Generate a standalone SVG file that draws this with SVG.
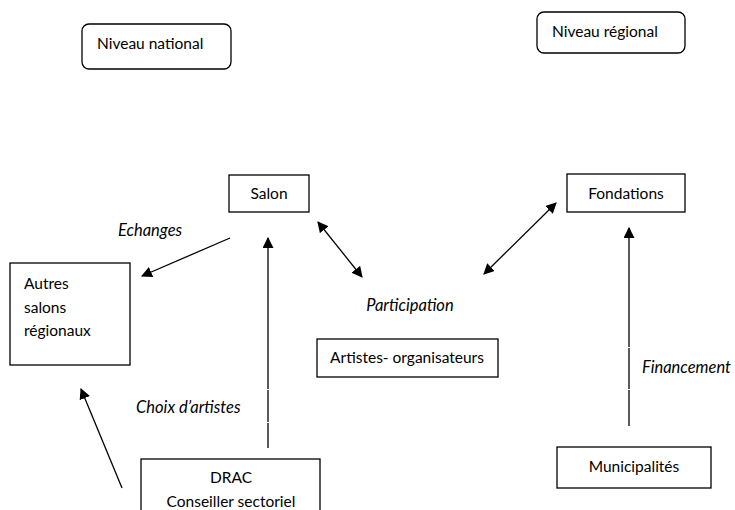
<svg xmlns="http://www.w3.org/2000/svg" width="735" height="510" viewBox="0 0 735 510">
<defs>
<style>
.box{fill:#fff;stroke:#000;stroke-width:1.3}
.t{font-family:Lato,"Open Sans",sans-serif;font-size:15.5px;fill:#000}
.lbl{font-family:Lato,"Open Sans",sans-serif;font-size:16.5px;font-style:italic;fill:#000}
.c{stroke:#000;stroke-width:1.3;fill:none}
</style>
<marker id="ah" viewBox="0 0 10 10" refX="9" refY="5" markerWidth="11" markerHeight="11" markerUnits="userSpaceOnUse" orient="auto-start-reverse">
<path d="M0,0 L10,5 L0,10 z" fill="#000"/>
</marker>
</defs>
<rect width="735" height="510" fill="#fff"/>
<g id="niveau-national"><rect class="box" x="82" y="24" width="149" height="45" rx="7"/><text class="t" x="97" y="49">Niveau national</text></g>
<g id="niveau-regional"><rect class="box" x="537" y="12" width="148" height="41" rx="7"/><text class="t" x="552" y="37">Niveau régional</text></g>
<g id="salon"><rect class="box" x="229" y="175" width="80" height="37"/><text class="t" x="269" y="199" text-anchor="middle">Salon</text></g>
<g id="fondations"><rect class="box" x="567" y="174" width="118" height="38"/><text class="t" x="626" y="199" text-anchor="middle">Fondations</text></g>
<g id="autres-salons"><rect class="box" x="10" y="263" width="120" height="102"/><text class="t" x="24" y="289">Autres</text><text class="t" x="24" y="313">salons</text><text class="t" x="24" y="336">régionaux</text></g>
<g id="artistes"><rect class="box" x="317" y="339" width="181" height="38"/><text class="t" x="407" y="363" text-anchor="middle">Artistes- organisateurs</text></g>
<g id="drac"><rect class="box" x="141" y="459" width="179" height="60"/><text class="t" x="231" y="483" text-anchor="middle">DRAC</text><text class="t" x="231" y="507" text-anchor="middle">Conseiller sectoriel</text></g>
<g id="municipalites"><rect class="box" x="557" y="447" width="154" height="41"/><text class="t" x="634" y="472" text-anchor="middle">Municipalités</text></g>
<g id="connectors">
<line class="c" x1="230" y1="238" x2="142" y2="276" marker-end="url(#ah)"/>
<line class="c" x1="268" y1="448" x2="268" y2="238" marker-end="url(#ah)"/>
<line class="c" x1="318" y1="222" x2="362" y2="277" marker-start="url(#ah)" marker-end="url(#ah)"/>
<line class="c" x1="556" y1="203" x2="484" y2="274" marker-start="url(#ah)" marker-end="url(#ah)"/>
<line class="c" x1="629" y1="426" x2="629" y2="228" marker-end="url(#ah)"/>
<line class="c" x1="122" y1="488" x2="81" y2="389" marker-end="url(#ah)"/>
<line x1="268" y1="389" x2="268" y2="390" stroke="#fff" stroke-width="3"/>
<line x1="268" y1="422" x2="268" y2="423" stroke="#fff" stroke-width="3"/>
<line x1="629" y1="347" x2="629" y2="348" stroke="#fff" stroke-width="3"/>
<line x1="629" y1="389" x2="629" y2="390" stroke="#fff" stroke-width="3"/>
</g>
<text class="lbl" x="118" y="236">Echanges</text>
<text class="lbl" x="410" y="311" text-anchor="middle">Participation</text>
<text class="lbl" x="136" y="413">Choix d’artistes</text>
<text class="lbl" x="642" y="373">Financement</text>
</svg>
